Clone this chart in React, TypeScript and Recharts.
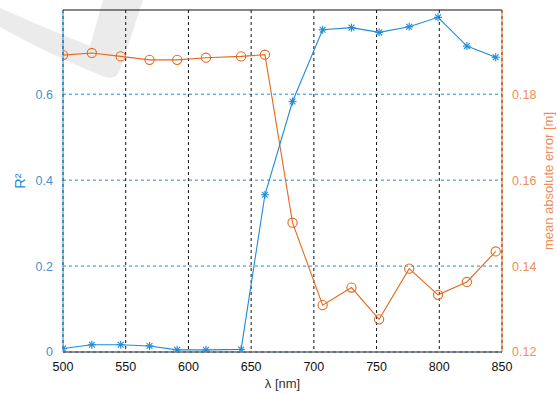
import React from 'react';
import { ComposedChart, Line, XAxis, YAxis, CartesianGrid, ReferenceLine, Label } from 'recharts';

const wavelengths = [500, 523, 546, 569, 591, 614, 642, 661, 683, 707, 730, 752, 776, 799, 822, 845];
const r2Values = [0.008, 0.017, 0.017, 0.014, 0.005, 0.005, 0.006, 0.366, 0.583, 0.75, 0.755, 0.744, 0.757, 0.779, 0.712, 0.686];
const maeValues = [0.1891, 0.1896, 0.1888, 0.188, 0.188, 0.1885, 0.1888, 0.1892, 0.1501, 0.1309, 0.135, 0.1276, 0.1394, 0.1333, 0.1363, 0.1434];

const xTicks = [500, 550, 600, 650, 700, 750, 800, 850];
const r2Ticks = [0, 0.2, 0.4, 0.6];
const maeTicks = [0.12, 0.14, 0.16, 0.18];

const BLUE = '#1f8cd6';
const ORANGE = '#e26a20';
const BLUE_TEXT = '#4a8fd0';
const ORANGE_TEXT = '#ef8e55';
const FONT = '"Liberation Sans", Arial, sans-serif';

const data = wavelengths.map((w, i) => ({ w, r2: r2Values[i], mae: maeValues[i] }));

const Star = (props: any) => {
  const { cx, cy, index } = props;
  const s = 4;
  const d = 2.9;
  return (
    <g key={`s${index}`} stroke={BLUE} strokeWidth={1.1}>
      <line x1={cx - s} y1={cy} x2={cx + s} y2={cy} />
      <line x1={cx} y1={cy - s} x2={cx} y2={cy + s} />
      <line x1={cx - d} y1={cy - d} x2={cx + d} y2={cy + d} />
      <line x1={cx - d} y1={cy + d} x2={cx + d} y2={cy - d} />
    </g>
  );
};

const Ring = (props: any) => {
  const { cx, cy, index } = props;
  return <circle key={`c${index}`} cx={cx} cy={cy} r={4.6} fill="none" stroke={ORANGE} strokeWidth={1.1} />;
};

export default function App() {
  return (
    <div style={{ position: 'absolute', left: 0, top: 0, width: 557, height: 394, background: '#fff' }}>
      {/* faint watermark behind the chart */}
      <svg width={557} height={394} style={{ position: 'absolute', left: 0, top: 0 }}>
        <path d="M0 8 Q50 30 90 46 L103 0 L143 0 L120 70 Q116 80 105 77 Q50 55 0 27 Z" fill="#ebebeb" />
      </svg>
      <div style={{ position: 'absolute', left: 0, top: 0 }}>
        <ComposedChart width={557} height={394} data={data} margin={{ top: 10, right: 0, bottom: 0, left: 0 }}>
          <CartesianGrid yAxisId="left" vertical={false} horizontalValues={r2Ticks} stroke={BLUE} strokeDasharray="3 3" />
          <CartesianGrid yAxisId="left" horizontal={false} verticalValues={xTicks} stroke="#111" strokeDasharray="3 3" />
          <XAxis
            dataKey="w"
            type="number"
            domain={[500, 850]}
            ticks={xTicks}
            height={42}
            stroke="#222"
            tickLine={false}
            tick={{ fill: '#111', fontSize: 12.5, fontFamily: FONT }}
            tickMargin={4}
            allowDataOverflow
          >
            <Label
              content={(p: any) => {
                const vb = p.viewBox;
                return (
                  <text x={vb.x + vb.width / 2} y={vb.y + 36} textAnchor="middle" fill="#333" fontSize={13} fontFamily={FONT}>
                    λ [nm]
                  </text>
                );
              }}
            />
          </XAxis>
          <YAxis
            yAxisId="left"
            domain={[0, 0.796]}
            ticks={r2Ticks}
            width={63}
            stroke={BLUE}
            tickLine={false}
            tickMargin={4}
            tickFormatter={(v: number) => (v === 0 ? '0' : v.toFixed(1))}
            tick={{ fill: BLUE_TEXT, fontSize: 12.5, fontFamily: FONT }}
            allowDataOverflow
          >
            <Label
              content={(p: any) => {
                const vb = p.viewBox;
                const cx = vb.x + 25;
                const cy = vb.y + vb.height / 2;
                return (
                  <text x={cx} y={cy} transform={`rotate(-90 ${cx} ${cy})`} textAnchor="middle" fill={BLUE} fontSize={14.5} fontFamily={FONT}>
                    R²
                  </text>
                );
              }}
            />
          </YAxis>
          <YAxis
            yAxisId="right"
            orientation="right"
            domain={[0.12, 0.1996]}
            ticks={maeTicks}
            width={55}
            stroke={ORANGE}
            tickLine={false}
            tickMargin={4}
            tickFormatter={(v: number) => v.toFixed(2)}
            tick={{ fill: ORANGE_TEXT, fontSize: 12.5, fontFamily: FONT }}
            allowDataOverflow
          >
            <Label
              content={(p: any) => {
                const vb = p.viewBox;
                const cx = vb.x + 51;
                const cy = vb.y + vb.height / 2;
                return (
                  <text x={cx} y={cy} transform={`rotate(-90 ${cx} ${cy})`} textAnchor="middle" fill={ORANGE_TEXT} fontSize={13} fontFamily={FONT}>
                    mean absolute error [m]
                  </text>
                );
              }}
            />
          </YAxis>
          <ReferenceLine yAxisId="left" y={0.796} stroke="#111" ifOverflow="extendDomain" />
          <Line yAxisId="right" dataKey="mae" stroke={ORANGE} strokeWidth={1.1} dot={Ring} isAnimationActive={false} />
          <Line yAxisId="left" dataKey="r2" stroke={BLUE} strokeWidth={1.1} dot={Star} isAnimationActive={false} />
        </ComposedChart>
      </div>
    </div>
  );
}
